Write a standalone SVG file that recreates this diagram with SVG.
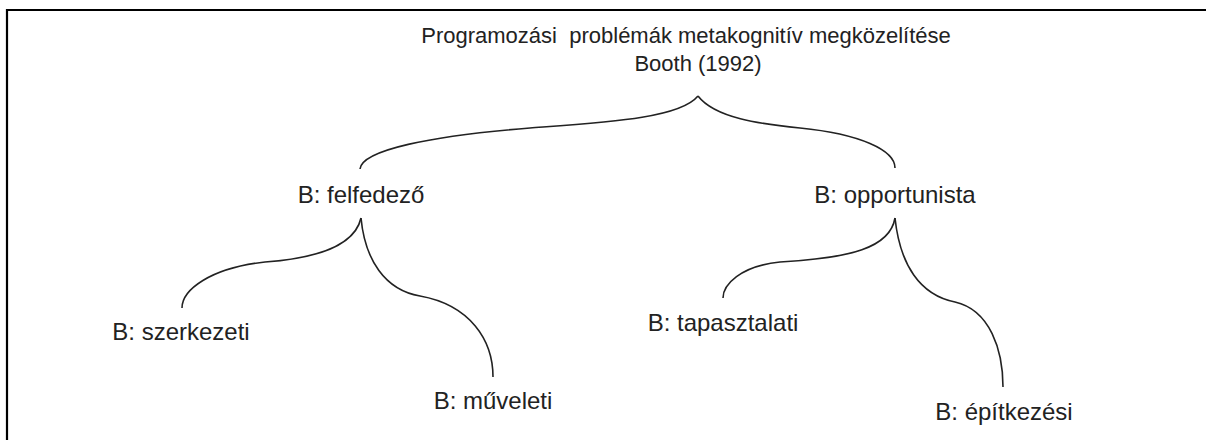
<svg xmlns="http://www.w3.org/2000/svg" width="1208" height="440" viewBox="0 0 1208 440">
<style>
text{font-family:"Liberation Sans",Arial,sans-serif;fill:#222;text-anchor:middle}
.t{font-size:22px}
.n{font-size:24px}
.c{fill:none;stroke:#222;stroke-width:1.6}
.frame{fill:none;stroke:#000;stroke-width:2.2}
</style>
<rect width="1208" height="440" fill="#fff"/>
<path class="frame" d="M7,440 V10 H1206"/>
<g id="connectors">
<path class="c" d="M698,96 C680,118 610,122 530,128 C430,136 362,150 360,169"/>
<path class="c" d="M698,96 C715,118 760,124 800,128 C860,134 895,150 895,168"/>
<path class="c" d="M361,218 C355,245 320,258 265,262 C210,268 182,290 182,308"/>
<path class="c" d="M361,218 C365,260 385,290 420,296 C470,305 493,340 493,377"/>
<path class="c" d="M895,218 C890,248 850,258 780,262 C740,266 723,285 723,298"/>
<path class="c" d="M895,218 C900,265 920,295 955,302 C990,310 1003,350 1003,387"/>
</g>
<g id="root"><text class="t" x="686" y="43" xml:space="preserve">Programozási  problémák metakognitív megközelítése</text><text class="t" x="698" y="71">Booth (1992)</text></g>
<g id="felfedezo"><text class="n" x="361" y="203">B: felfedező</text></g>
<g id="opportunista"><text class="n" x="895" y="203">B: opportunista</text></g>
<g id="szerkezeti"><text class="n" x="181" y="340">B: szerkezeti</text></g>
<g id="muveleti"><text class="n" x="493" y="409">B: műveleti</text></g>
<g id="tapasztalati"><text class="n" x="723" y="331">B: tapasztalati</text></g>
<g id="epitkezesi"><text class="n" x="1004" y="420">B: építkezési</text></g>
</svg>
